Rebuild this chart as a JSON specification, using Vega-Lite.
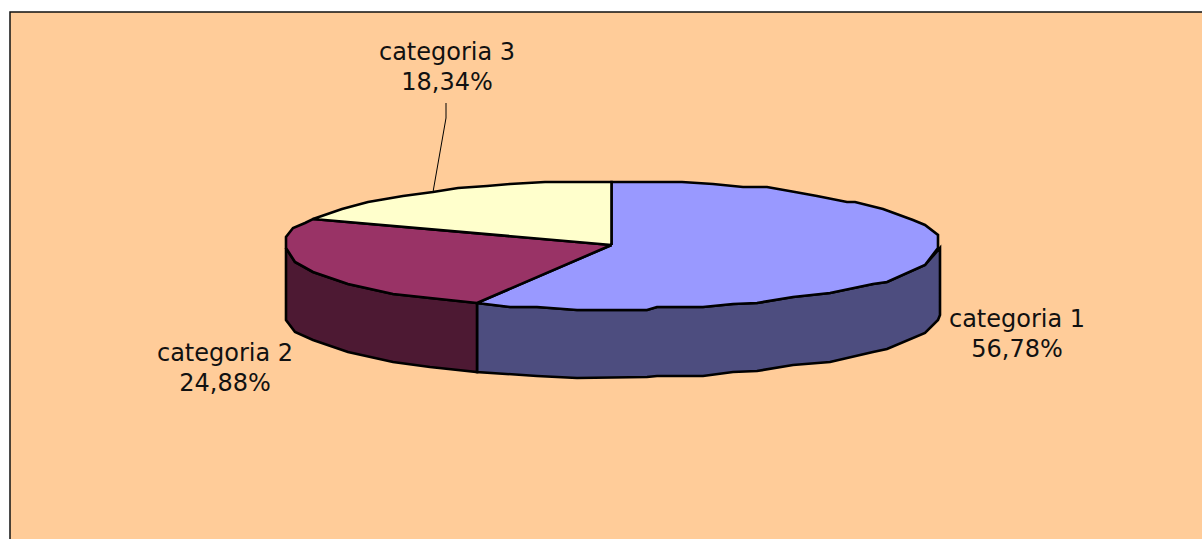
{
"$schema":"https://vega.github.io/schema/vega-lite/v6.json",
"width":1192,"height":527,"autosize":{"type":"none"},
"padding":{"left":10,"top":12,"right":0,"bottom":0},
"background":"#FFFFFF",
"view":{"fill":"#FFCC99","stroke":null},
"encoding":{
"x":{"field":"x","type":"quantitative","scale":{"domain":[10,1202],"nice":false,"zero":false},"axis":null},
"y":{"field":"y","type":"quantitative","scale":{"domain":[539,12],"nice":false,"zero":false},"axis":null}
},
"resolve":{"scale":{"x":"shared","y":"shared"}},
"layer":[
{"data":{"values":[
{"part":"categoria 1 lato","i":1,"x":477,"y":303},{"part":"categoria 1 lato","i":2,"x":477,"y":372},{"part":"categoria 1 lato","i":3,"x":537,"y":376},{"part":"categoria 1 lato","i":4,"x":577,"y":378},{"part":"categoria 1 lato","i":5,"x":647,"y":377},{"part":"categoria 1 lato","i":6,"x":657,"y":376},{"part":"categoria 1 lato","i":7,"x":703,"y":376},{"part":"categoria 1 lato","i":8,"x":733,"y":372},{"part":"categoria 1 lato","i":9,"x":757,"y":371},{"part":"categoria 1 lato","i":10,"x":793,"y":365},{"part":"categoria 1 lato","i":11,"x":830,"y":362},{"part":"categoria 1 lato","i":12,"x":873,"y":352},{"part":"categoria 1 lato","i":13,"x":887,"y":349},{"part":"categoria 1 lato","i":14,"x":925,"y":333},{"part":"categoria 1 lato","i":15,"x":938,"y":320},{"part":"categoria 1 lato","i":16,"x":940,"y":315},{"part":"categoria 1 lato","i":17,"x":940,"y":248},{"part":"categoria 1 lato","i":18,"x":925,"y":265},{"part":"categoria 1 lato","i":19,"x":887,"y":282},{"part":"categoria 1 lato","i":20,"x":873,"y":284},{"part":"categoria 1 lato","i":21,"x":830,"y":293},{"part":"categoria 1 lato","i":22,"x":793,"y":297},{"part":"categoria 1 lato","i":23,"x":757,"y":303},{"part":"categoria 1 lato","i":24,"x":733,"y":304},{"part":"categoria 1 lato","i":25,"x":703,"y":307},{"part":"categoria 1 lato","i":26,"x":657,"y":307},{"part":"categoria 1 lato","i":27,"x":647,"y":310},{"part":"categoria 1 lato","i":28,"x":577,"y":310},{"part":"categoria 1 lato","i":29,"x":537,"y":307},{"part":"categoria 1 lato","i":30,"x":510,"y":307},{"part":"categoria 1 lato","i":31,"x":477,"y":303},
{"part":"categoria 2 lato","i":1,"x":286,"y":248},{"part":"categoria 2 lato","i":2,"x":286,"y":320},{"part":"categoria 2 lato","i":3,"x":295,"y":332},{"part":"categoria 2 lato","i":4,"x":313,"y":340},{"part":"categoria 2 lato","i":5,"x":348,"y":352},{"part":"categoria 2 lato","i":6,"x":393,"y":362},{"part":"categoria 2 lato","i":7,"x":430,"y":367},{"part":"categoria 2 lato","i":8,"x":477,"y":372},{"part":"categoria 2 lato","i":9,"x":477,"y":303},{"part":"categoria 2 lato","i":10,"x":430,"y":298},{"part":"categoria 2 lato","i":11,"x":393,"y":294},{"part":"categoria 2 lato","i":12,"x":348,"y":284},{"part":"categoria 2 lato","i":13,"x":313,"y":272},{"part":"categoria 2 lato","i":14,"x":295,"y":262},{"part":"categoria 2 lato","i":15,"x":286,"y":248},
{"part":"categoria 1","i":1,"x":611.5,"y":245},{"part":"categoria 1","i":2,"x":477,"y":303},{"part":"categoria 1","i":3,"x":510,"y":307},{"part":"categoria 1","i":4,"x":537,"y":307},{"part":"categoria 1","i":5,"x":577,"y":310},{"part":"categoria 1","i":6,"x":647,"y":310},{"part":"categoria 1","i":7,"x":657,"y":307},{"part":"categoria 1","i":8,"x":703,"y":307},{"part":"categoria 1","i":9,"x":733,"y":304},{"part":"categoria 1","i":10,"x":757,"y":303},{"part":"categoria 1","i":11,"x":793,"y":297},{"part":"categoria 1","i":12,"x":830,"y":293},{"part":"categoria 1","i":13,"x":873,"y":284},{"part":"categoria 1","i":14,"x":887,"y":282},{"part":"categoria 1","i":15,"x":925,"y":265},{"part":"categoria 1","i":16,"x":938,"y":248},{"part":"categoria 1","i":17,"x":938,"y":235},{"part":"categoria 1","i":18,"x":925,"y":225},{"part":"categoria 1","i":19,"x":913,"y":220},{"part":"categoria 1","i":20,"x":883,"y":209},{"part":"categoria 1","i":21,"x":855,"y":202},{"part":"categoria 1","i":22,"x":847,"y":202},{"part":"categoria 1","i":23,"x":817,"y":196},{"part":"categoria 1","i":24,"x":795,"y":192},{"part":"categoria 1","i":25,"x":767,"y":187},{"part":"categoria 1","i":26,"x":743,"y":187},{"part":"categoria 1","i":27,"x":713,"y":184},{"part":"categoria 1","i":28,"x":682,"y":182},{"part":"categoria 1","i":29,"x":611.5,"y":182},{"part":"categoria 1","i":30,"x":611.5,"y":245},
{"part":"categoria 2","i":1,"x":611.5,"y":245},{"part":"categoria 2","i":2,"x":313,"y":219},{"part":"categoria 2","i":3,"x":305,"y":223},{"part":"categoria 2","i":4,"x":293,"y":228},{"part":"categoria 2","i":5,"x":286,"y":237},{"part":"categoria 2","i":6,"x":286,"y":248},{"part":"categoria 2","i":7,"x":295,"y":262},{"part":"categoria 2","i":8,"x":313,"y":272},{"part":"categoria 2","i":9,"x":348,"y":284},{"part":"categoria 2","i":10,"x":393,"y":294},{"part":"categoria 2","i":11,"x":430,"y":298},{"part":"categoria 2","i":12,"x":477,"y":303},{"part":"categoria 2","i":13,"x":611.5,"y":245},
{"part":"categoria 3","i":1,"x":611.5,"y":245},{"part":"categoria 3","i":2,"x":611.5,"y":182},{"part":"categoria 3","i":3,"x":545,"y":182},{"part":"categoria 3","i":4,"x":510,"y":184},{"part":"categoria 3","i":5,"x":487,"y":186},{"part":"categoria 3","i":6,"x":458,"y":188},{"part":"categoria 3","i":7,"x":433,"y":192},{"part":"categoria 3","i":8,"x":403,"y":196},{"part":"categoria 3","i":9,"x":368,"y":202},{"part":"categoria 3","i":10,"x":342,"y":209},{"part":"categoria 3","i":11,"x":313,"y":219},{"part":"categoria 3","i":12,"x":611.5,"y":245}
]},
"mark":{"type":"line","stroke":"#000000","strokeWidth":2.6,"strokeJoin":"miter","interpolate":"linear","clip":false},
"encoding":{
"order":{"field":"i","type":"quantitative"},
"detail":{"field":"part"},
"fill":{"field":"part","type":"nominal","legend":null,"scale":{"domain":["categoria 1 lato","categoria 2 lato","categoria 1","categoria 2","categoria 3"],"range":["#4D4D7F","#4D1933","#9999FF","#993366","#FFFFCC"]}}
}},
{"data":{"values":[{"i":1,"x":446,"y":103},{"i":2,"x":446,"y":118},{"i":3,"x":433,"y":192}]},
"mark":{"type":"line","stroke":"#000000","strokeWidth":1,"interpolate":"linear"},
"encoding":{"order":{"field":"i","type":"quantitative"}}},
{"data":{"values":[{"i":1,"x":10,"y":539},{"i":2,"x":10,"y":12},{"i":3,"x":1202,"y":12}]},
"mark":{"type":"line","stroke":"#111111","strokeWidth":1.5,"interpolate":"linear","clip":false},
"encoding":{"order":{"field":"i","type":"quantitative"}}},
{"data":{"values":[
{"label":"categoria 1\n56,78%","x":1017,"y":320},
{"label":"categoria 2\n24,88%","x":225,"y":354},
{"label":"categoria 3\n18,34%","x":447,"y":53}
]},
"mark":{"type":"text","font":"DejaVu Sans","fontSize":24,"lineBreak":"\n","lineHeight":30,"align":"center","baseline":"middle","color":"#111111"},
"encoding":{"text":{"field":"label"}}}
]
}
